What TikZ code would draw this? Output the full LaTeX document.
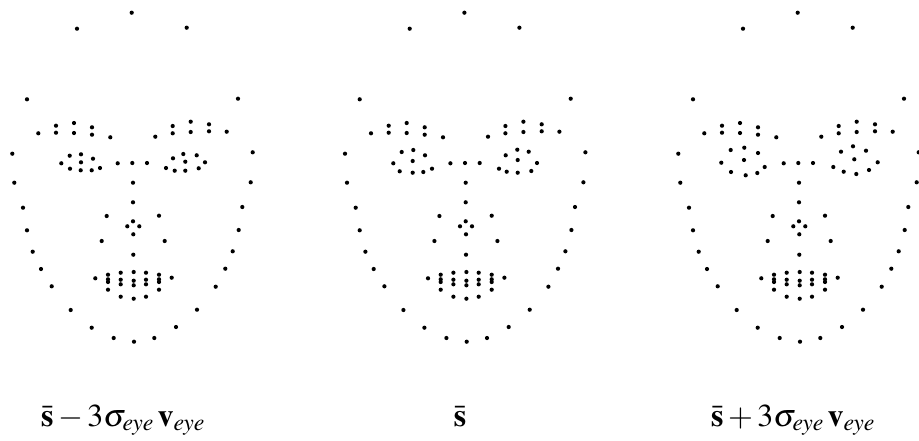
\documentclass[tikz,border=0pt]{standalone}
\usepackage{mathptmx}
\usetikzlibrary{positioning}

% landmark points shared by all three faces (eyes excluded)
\newcommand{\commonpts}{131.7/12.7, 77/28.7, 186.7/27.7, 27/99.3, 238/98.7,
  38.3/133.3, 56/125.7, 56/132.7, 74/123, 74/133, 92/127.3, 92/134.7, 110.3/137.3,
  155.3/136.7, 172.7/126, 172.7/133.3, 190.7/121.7, 190.7/132, 209/124.3, 209/131.3, 226.7/131.7,
  117.7/163.3, 132.3/163, 147/163,
  133/182.7, 133/202.3, 106.7/216, 159/215.7, 133/221.3, 127.3/226.3, 139.3/226.3, 133.3/234.3,
  101.7/241, 164.7/241, 133.3/254.7,
  12.3/153.7, 252.7/152.3, 14.3/182.7, 250.7/182.3, 23/207.7, 242.3/207, 27/230.3, 238.7/230,
  32.7/251.7, 232.7/251.3, 41/269, 225.3/268.7, 51.7/286.3, 215.7/286.7, 70.7/310, 197/309.7,
  91.7/327.7, 176/327, 113.7/338, 154.3/338, 134/341.7,
  95.3/278.3, 171.7/277.7, 108/274.7, 108/279.3, 108/282, 108/289.7,
  120.7/272.7, 120.7/279.7, 120.7/284.3, 120.7/296.7, 133.7/272, 133.7/280.7, 133.7/285.3, 133.7/298.7,
  146/272.7, 146/279.7, 146/284.3, 146/296.7, 159/274.7, 159/279.3, 159/282, 159/289.7}

% eye points, one list per face
\newcommand{\eyesminus}{61.3/163.3, 69.7/155.7, 81/154.3, 93/158.7, 100/168, 91.7/170.3, 80.7/170.3, 70/168.7, 81/162.3,
  166/168, 173/158.3, 183.3/154, 196.7/155.3, 205/162.3, 198.7/168.3, 185.3/170.7, 174.7/170.7, 185.3/161.7}
\newcommand{\eyesmean}{60.6/163.3, 69/152, 80.6/150, 92.3/155.3, 99.3/168.7, 90.6/172, 80/172.7, 67/171.3, 80/161,
  166.3/168.7, 173/155.3, 184.6/149.7, 196/151.7, 204.3/163, 198.6/171, 185/172.7, 174/171.7, 185/160}
\newcommand{\eyesplus}{55.3/162.7, 64.7/150, 78.3/147.7, 92/153, 98.7/167, 91.3/173, 79.7/175.3, 65/172, 78/160,
  167.3/167, 175/151.7, 187/146.3, 200/150.7, 211.7/162.3, 203/170, 190.3/174, 177.7/171.7, 188.3/159.3}

\tikzset{
  landmark/.style={fill=black},
  caption/.style={anchor=base, inner sep=0pt, font=\fontsize{32}{38}\selectfont}
}
\newcommand{\dotr}{2.1pt}

\begin{document}
\begin{tikzpicture}[x=1pt,y=-1pt]
  \useasboundingbox (0,0) rectangle (919,440);

  % face 1: mean minus 3 sigma
  \begin{scope}[xshift=0pt]
    \foreach \x/\y in \commonpts {\fill[landmark] (\x,\y) circle (\dotr);}
    \foreach \x/\y in \eyesminus {\fill[landmark] (\x,\y) circle (\dotr);}
  \end{scope}

  % face 2: mean shape
  \begin{scope}[xshift=332.7pt]
    \foreach \x/\y in \commonpts {\fill[landmark] (\x,\y) circle (\dotr);}
    \foreach \x/\y in \eyesmean {\fill[landmark] (\x,\y) circle (\dotr);}
  \end{scope}

  % face 3: mean plus 3 sigma
  \begin{scope}[xshift=666pt]
    \foreach \x/\y in \commonpts {\fill[landmark] (\x,\y) circle (\dotr);}
    \foreach \x/\y in \eyesplus {\fill[landmark] (\x,\y) circle (\dotr);}
  \end{scope}

  % captions
  \node[caption] (cminus) at (123,426) {$\bar{\mathbf{s}}-3\sigma_{eye}\,\mathbf{v}_{eye}$};
  \node[caption] (cmean)  at (460,426) {$\bar{\mathbf{s}}$};
  \node[caption] (cplus)  at (793,426) {$\bar{\mathbf{s}}+3\sigma_{eye}\,\mathbf{v}_{eye}$};
\end{tikzpicture}
\end{document}
